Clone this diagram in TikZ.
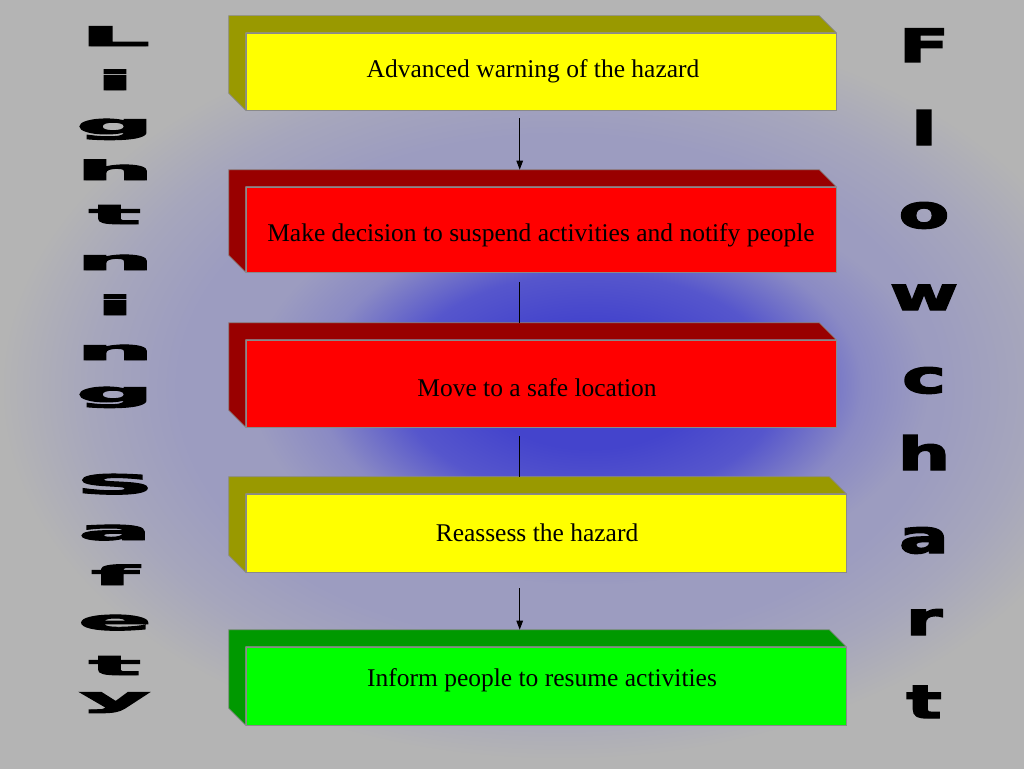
\documentclass[tikz,border=0pt]{standalone}
\usepackage{fontspec}
\usepackage{graphicx}
\setmainfont{Liberation Serif}
\newfontfamily\lsidefont{DejaVu Sans Bold}[FakeBold=3.5]
\newfontfamily\rsidefont{DejaVu Sans Bold}[FakeBold=3]
\usetikzlibrary{arrows.meta,calc}
\definecolor{bg}{HTML}{B4B4B4}
\definecolor{glowc}{HTML}{4444CC}
\definecolor{glowm}{HTML}{5656CC}
\definecolor{glowo}{HTML}{8A8AC4}
\definecolor{plat}{HTML}{9C9CC0}
\definecolor{plate}{HTML}{A6A6BC}
\definecolor{yel}{HTML}{FFFF00}
\definecolor{yelD}{HTML}{999900}
\definecolor{redF}{HTML}{FF0000}
\definecolor{redD}{HTML}{990000}
\definecolor{grnF}{HTML}{00FF00}
\definecolor{grnD}{HTML}{009900}
\definecolor{edge}{HTML}{8A8A8A}
\pgfdeclareradialshading{broad}{\pgfpoint{0bp}{0bp}}{color(0bp)=(plat); color(17bp)=(plat); color(21bp)=(plate); color(25bp)=(bg); color(50bp)=(bg)}
\pgfdeclareradialshading{glow}{\pgfpoint{0bp}{0bp}}{color(0bp)=(glowc); color(8bp)=(glowc); color(14bp)=(glowm); color(20bp)=(glowo); color(25bp)=(plat); color(50bp)=(plat)}
\newcommand{\lft}[1]{\scalebox{4.0}[1]{\lsidefont\fontsize{27}{27}\selectfont #1}}
\newcommand{\rgt}[1]{\scalebox{1.6}[1.0]{\rsidefont\fontsize{46}{46}\selectfont #1}}
\newcommand{\lowered}[2]{\raisebox{#1}[\height][\depth]{#2}}
\newcommand{\bevel}[2]{\filldraw[#2, draw=edge, line width=0.6pt] ([shift={(-17,-17)}]#1.north west) -- ([shift={(-17,-17)}]#1.north east) -- (#1.north east) -- (#1.north west) -- (#1.south west) -- ([shift={(-17,-17)}]#1.south west) -- cycle;}
\tikzset{
  stepbox/.style={draw=edge, line width=0.6pt, inner sep=0pt, font=\fontsize{25.5}{30}\selectfont, text=black},
  conn/.style={line width=1.1pt, draw=black},
  arr/.style={conn, -{Triangle[length=9pt,width=6.5pt]}},
  letter/.style={inner sep=0pt, anchor=base, text=black}
}
\begin{document}
\begin{tikzpicture}[x=1pt,y=-1pt]
\useasboundingbox (0,0) rectangle (1024,768);
\begin{scope}
\clip (0,0) rectangle (1024,768);
\fill[bg] (-5,-5) rectangle (1029,773);
\shade[shading=broad] (560,388) ellipse [x radius=560, y radius=372];
\shade[shading=glow] (590,385) ellipse [x radius=340, y radius=200];
\end{scope}
% boxes
\node[stepbox, fill=yel, minimum width=590pt, minimum height=77pt] (b1) at (541,71.5) {Advanced warning of the hazard\hspace*{16pt}};
\bevel{b1}{yelD}
\node[stepbox, fill=redF, minimum width=590pt, minimum height=85pt] (b2) at (541,229.5) {\lowered{-6pt}{Make decision to suspend activities and notify people}};
\bevel{b2}{redD}
\node[stepbox, fill=redF, minimum width=590pt, minimum height=87pt] (b3) at (541,383.5) {\lowered{-4pt}{Move to a safe location}\hspace*{8pt}};
\bevel{b3}{redD}
\node[stepbox, fill=yel, minimum width=600pt, minimum height=78pt] (b4) at (546,533) {Reassess the hazard\hspace*{18pt}};
\bevel{b4}{yelD}
\node[stepbox, fill=grnF, minimum width=600pt, minimum height=78pt] (b5) at (546,686) {\lowered{6pt}{Inform people to resume activities}\hspace*{8pt}};
\bevel{b5}{grnD}
% connectors
\draw[arr] ([shift={(274,8)}]b1.south west) -- ([shift={(274,-17)}]b2.north west);
\draw[conn] ([shift={(274,10)}]b2.south west) -- ([shift={(274,-17)}]b3.north west);
\draw[conn] ([shift={(274,9)}]b3.south west) -- ([shift={(274,-17)}]b4.north west);
\draw[arr] ([shift={(274,16)}]b4.south west) -- ([shift={(274,-17)}]b5.north west);
% side titles
\foreach \ch/\yy [count=\i] in {L/46,i/90,g/134,h/180,t/224,n/270,i/315,n/360,g/402,S/494,a/540,f/585,e/630,t/675,y/707}
  \node[letter] (ls\i) at (115,\yy) {\lft{\ch}};
\foreach \ch/\yy [count=\i] in {F/62,l/145,o/228,w/310,c/393,h/470,a/553,r/635,t/718}
  \node[letter] (rf\i) at (924,\yy) {\rgt{\ch}};
\end{tikzpicture}
\end{document}
